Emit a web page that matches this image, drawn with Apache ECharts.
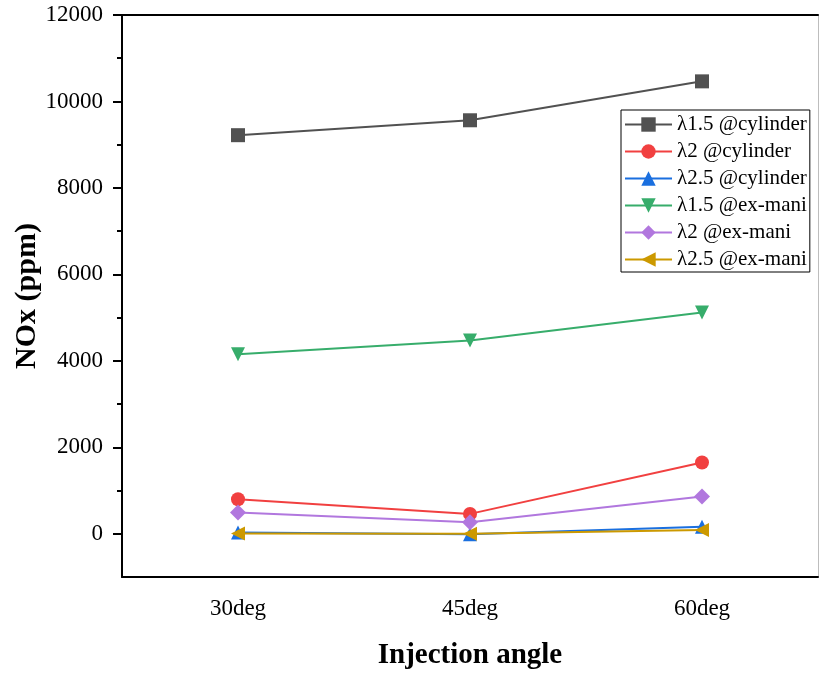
<!DOCTYPE html>
<html>
<head>
<meta charset="utf-8">
<script src="https://cdn.jsdelivr.net/npm/echarts@6/dist/echarts.min.js"></script>
<style>
  html, body { margin: 0; padding: 0; background: #fff; }
  #chart { width: 819px; height: 674px; }
</style>
</head>
<body>
<div id="chart"></div>
<script>
// Injection angle categories
const angles = ['30deg', '45deg', '60deg'];

// NOx (ppm) for each excess-air ratio, at cylinder and exhaust manifold
const lambda15Cylinder = [9220, 9565, 10465];
const lambda2Cylinder = [800, 460, 1650];
const lambda25Cylinder = [30, -10, 160];
const lambda15ExMani = [4150, 4470, 5120];
const lambda2ExMani = [490, 265, 860];
const lambda25ExMani = [5, 0, 90];

// Y axis ticks
const majorTicks = [0, 2000, 4000, 6000, 8000, 10000, 12000];
const minorTicks = [1000, 3000, 5000, 7000, 9000, 11000];

const serif = 'Liberation Serif, Times New Roman, serif';

function lineSeries(name, data, color, symbol, rotate) {
  return {
    name: name,
    type: 'line',
    data: data,
    symbol: symbol,
    symbolSize: symbol === 'diamond' ? 16 : 14,
    symbolRotate: rotate || 0,
    lineStyle: { color: color, width: 2 },
    itemStyle: { color: color },
    emphasis: { disabled: true }
  };
}

const chart = echarts.init(document.getElementById('chart'));
chart.setOption({
  animation: false,
  backgroundColor: '#fff',
  grid: { left: 122, right: 1, top: 15, bottom: 97, outerBoundsMode: 'none', containLabel: false },
  legend: {
    orient: 'vertical',
    left: 621,
    top: 110,
    padding: [4, 3, 2, 3],
    itemWidth: 47,
    itemHeight: 18,
    itemGap: 6,
    borderColor: '#000',
    borderWidth: 1,
    backgroundColor: '#fff',
    textStyle: { fontFamily: serif, fontSize: 21, color: '#000', padding: [0, 0, 0, 0] }
  },
  xAxis: [
    {
      type: 'category',
      data: angles,
      position: 'bottom',
      name: 'Injection angle',
      nameLocation: 'middle',
      nameGap: 64,
      nameMoveOverlap: false,
      nameTextStyle: { fontFamily: serif, fontSize: 29, fontWeight: 'bold', color: '#000' },
      axisLine: { onZero: false, lineStyle: { color: '#000', width: 2 } },
      axisTick: { alignWithLabel: true, length: 9, lineStyle: { color: '#000', width: 2 } },
      axisLabel: { fontFamily: serif, fontSize: 23, color: '#000', margin: 20 },
      splitLine: { show: false }
    },
    {
      type: 'category',
      data: angles,
      position: 'top',
      axisLine: { onZero: false, lineStyle: { color: '#000', width: 2 } },
      axisTick: { show: false },
      axisLabel: { show: false },
      splitLine: { show: false }
    }
  ],
  yAxis: [
    {
      type: 'value',
      min: -1000,
      max: 12000,
      position: 'left',
      name: 'NOx (ppm)',
      nameLocation: 'middle',
      nameGap: 80,
      nameMoveOverlap: false,
      nameTextStyle: { fontFamily: serif, fontSize: 30, fontWeight: 'bold', color: '#000' },
      axisLine: { show: true, onZero: false, lineStyle: { color: '#000', width: 2 } },
      axisTick: { show: true, length: 9, customValues: majorTicks, lineStyle: { color: '#000', width: 2 } },
      axisLabel: {
        fontFamily: serif, fontSize: 23, color: '#000', margin: 19,
        customValues: majorTicks,
        formatter: function (v) { return String(v); }
      },
      splitLine: { show: false }
    },
    {
      type: 'value',
      min: -1000,
      max: 12000,
      position: 'left',
      axisLine: { show: false, onZero: false },
      axisTick: { show: true, length: 5, customValues: minorTicks, lineStyle: { color: '#000', width: 2 } },
      axisLabel: { show: false },
      splitLine: { show: false }
    },
    {
      type: 'value',
      min: -1000,
      max: 12000,
      position: 'right',
      axisLine: { show: true, onZero: false, lineStyle: { color: '#bdbdbd', width: 1 } },
      axisTick: { show: false },
      axisLabel: { show: false },
      splitLine: { show: false }
    }
  ],
  series: [
    lineSeries('λ1.5 @cylinder', lambda15Cylinder, '#515151', 'rect'),
    lineSeries('λ2 @cylinder', lambda2Cylinder, '#F14040', 'circle'),
    lineSeries('λ2.5 @cylinder', lambda25Cylinder, '#1A6FDF', 'triangle'),
    lineSeries('λ1.5 @ex-mani', lambda15ExMani, '#37AD6B', 'triangle', 180),
    lineSeries('λ2 @ex-mani', lambda2ExMani, '#B177DE', 'diamond'),
    lineSeries('λ2.5 @ex-mani', lambda25ExMani, '#CC9900', 'triangle', 90)
  ]
});
</script>
</body>
</html>
